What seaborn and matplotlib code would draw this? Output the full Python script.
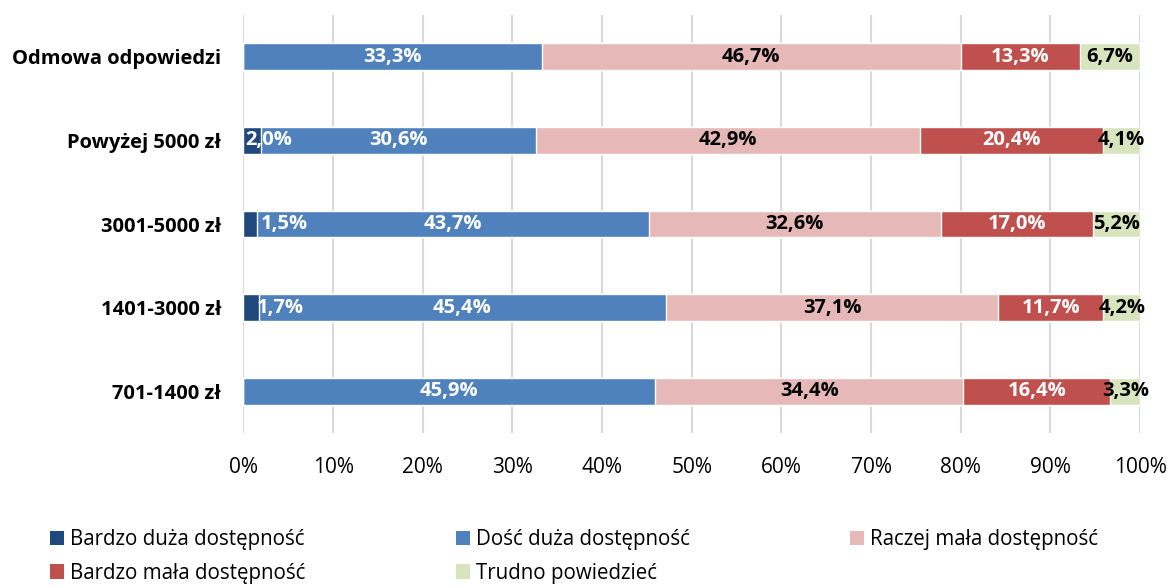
import numpy as np
import pandas as pd
import matplotlib
matplotlib.use("Agg")
import matplotlib.pyplot as plt
import seaborn as sns
from matplotlib.patches import Patch

categories = ["Odmowa odpowiedzi", "Powyżej 5000 zł", "3001-5000 zł", "1401-3000 zł", "701-1400 zł"]
series_names = ["Bardzo duża dostępność", "Dość duża dostępność", "Raczej mała dostępność",
                "Bardzo mała dostępność", "Trudno powiedzieć"]
bardzo_duza = [0.0, 2.0, 1.5, 1.7, 0.0]
dosc_duza = [33.3, 30.6, 43.7, 45.4, 45.9]
raczej_mala = [46.7, 42.9, 32.6, 37.1, 34.4]
bardzo_mala = [13.3, 20.4, 17.0, 11.7, 16.4]
trudno = [6.7, 4.1, 5.2, 4.2, 3.3]
ticks = [0, 10, 20, 30, 40, 50, 60, 70, 80, 90, 100]

series = [bardzo_duza, dosc_duza, raczej_mala, bardzo_mala, trudno]
colors = ["#1F497D", "#4F81BD", "#E6B9B8", "#C0504D", "#D7E4BD"]
text_colors = ["white", "white", "black", "white", "black"]

sns.set_style("white")
plt.rcParams['font.family'] = ['Open Sans', 'DejaVu Sans']
plt.rcParams['text.color'] = 'black'
plt.rcParams['xtick.color'] = 'black'
plt.rcParams['ytick.color'] = 'black'

fig = plt.figure(figsize=(11.68, 5.88), dpi=100)
ax = fig.add_axes([243.5 / 1168, 155 / 588, 896.5 / 1168, 418 / 588])

cums = np.cumsum(np.array(series), axis=0)
for i in range(len(series) - 1, -1, -1):
    df = pd.DataFrame({"cat": categories, "val": cums[i]})
    sns.barplot(data=df, x="val", y="cat", orient="h", color=colors[i], saturation=1,
                width=0.32, ax=ax, order=categories, zorder=2)

# labels
small_label_x = {1: 2.85, 2: 4.5, 3: 4.1}
for i, vals in enumerate(series):
    for j, v in enumerate(vals):
        if v <= 0:
            continue
        start = cums[i][j] - v
        x = start + v / 2
        if i == 0 and j in small_label_x:
            x = small_label_x[j]
        ax.text(x, j, f"{v:.1f}".replace(".", ",") + "%", ha="center", va="center",
                color=text_colors[i], fontsize=14.5, fontweight="bold", zorder=5)

ax.set_xlim(0, 100)
ax.set_ylim(4.5, -0.5)
ax.set_xticks(ticks)
ax.set_xticklabels([f"{t}%" for t in ticks], fontsize=15, color="black")
ax.set_xlabel("")
ax.set_ylabel("")
ax.set_yticklabels(categories, fontsize=14.5, fontweight="bold", color="black")
ax.tick_params(axis="both", length=0)
ax.tick_params(axis="x", pad=17)
ax.tick_params(axis="y", pad=16)
for s in ax.spines.values():
    s.set_visible(False)
ax.xaxis.grid(True, color="#D9D9D9", linewidth=1.5, zorder=0)
ax.yaxis.grid(False)
ax.set_axisbelow(True)

# legend: three columns placed individually
handles = [Patch(facecolor=c, edgecolor="none") for c in colors]
cols = [([0, 3], 50), ([1, 4], 456), ([2], 850)]
for idx, xpx in cols:
    leg = fig.legend([handles[k] for k in idx], [series_names[k] for k in idx],
                     loc="upper left", bbox_to_anchor=(xpx / 1168, 1 - 529 / 588),
                     frameon=False, fontsize=14.8, handlelength=0.7, handleheight=0.7,
                     handletextpad=0.25, labelspacing=0.62, borderaxespad=0, borderpad=0)
    for t in leg.get_texts():
        t.set_color("black")

fig.savefig("out.png", dpi=100)
